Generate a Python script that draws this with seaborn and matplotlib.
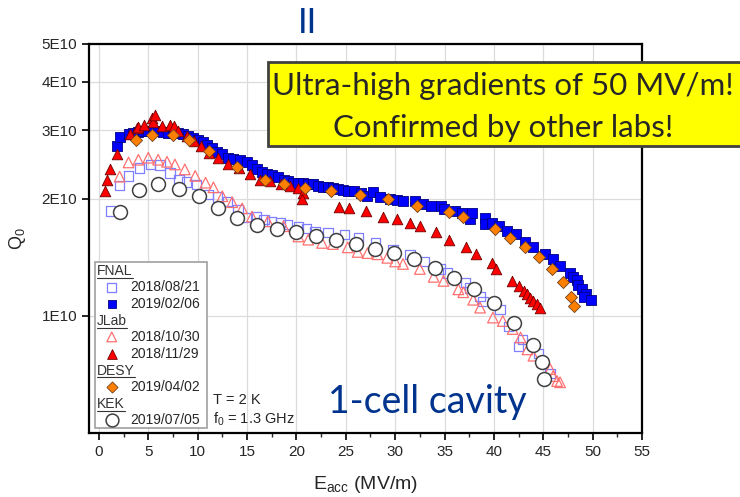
import numpy as np
import pandas as pd
import matplotlib
matplotlib.use("Agg")
import matplotlib.pyplot as plt
from matplotlib.patches import Rectangle
from matplotlib.ticker import FixedLocator, MultipleLocator, NullLocator
import seaborn as sns

# Q0 values are in units of 1E10, Eacc in MV/m
# FNAL 2018/08/21 (open squares)
fnal18_e = [1.2, 2.1, 3.0, 4.1, 5.2, 6.2, 7.2, 8.1, 8.9, 9.9, 11.1, 12.0, 13.0, 14.1, 15.0,
            15.9, 16.7, 17.5, 18.4, 19.1, 20.2, 21.0, 21.9, 23.2, 24.9, 26.3, 28.0, 29.8,
            31.5, 33.0, 34.6, 35.3, 37.1, 37.6, 38.6, 38.9, 40.6, 41.5, 42.5, 42.9, 44.5, 45.7]
fnal18_q = [1.86, 2.16, 2.29, 2.40, 2.45, 2.44, 2.33, 2.24, 2.21, 2.18, 2.05, 2.02, 1.97, 1.88, 1.79,
            1.80, 1.77, 1.75, 1.74, 1.72, 1.70, 1.68, 1.65, 1.64, 1.62, 1.59, 1.54, 1.48,
            1.44, 1.38, 1.32, 1.29, 1.22, 1.18, 1.12, 1.09, 1.04, 0.94, 0.835, 0.87, 0.80, 0.71]

# FNAL 2019/02/06 (filled squares)
fnal19_e = [1.8, 2.1, 3.0, 3.5, 4.0, 4.5, 5.0, 5.5, 6.0, 6.5, 7.0, 7.5, 8.0, 8.5, 9.0, 9.5,
            10.0, 10.5, 10.9, 11.5, 12.0, 12.5, 13.1, 13.6, 14.3, 15.0, 15.5, 16.0, 16.5, 17.0,
            17.5, 18.1, 18.7, 19.2, 19.7, 20.2, 20.7, 21.2, 21.7, 22.2, 22.7, 23.2, 23.7, 24.2,
            24.7, 25.2, 25.8, 26.5, 27.2, 27.8, 28.5, 29.5, 30.2, 30.8, 32.0, 32.8, 33.6, 34.6,
            34.9, 36.1, 36.8, 37.6, 37.8, 39.1, 39.1, 39.8, 40.5, 41.3, 42.2, 43.2, 44.0, 45.2,
            46.0, 46.7, 47.7, 48.0, 48.4, 48.5, 48.9, 49.3, 49.1, 49.8]
fnal19_q = [2.73, 2.88, 2.93, 2.95, 2.97, 2.98, 2.99, 2.98, 2.98, 2.97, 2.96, 2.96, 2.95, 2.93, 2.90, 2.87,
            2.84, 2.80, 2.75, 2.70, 2.64, 2.60, 2.55, 2.53, 2.52, 2.48, 2.44, 2.38, 2.35, 2.32,
            2.30, 2.27, 2.24, 2.22, 2.20, 2.20, 2.19, 2.18, 2.18, 2.16, 2.15, 2.14, 2.13, 2.12,
            2.11, 2.10, 2.09, 2.07, 2.03, 2.08, 2.02, 2.00, 1.99, 1.97, 1.97, 1.94, 1.92, 1.92,
            1.88, 1.86, 1.84, 1.77, 1.84, 1.78, 1.72, 1.73, 1.70, 1.65, 1.62, 1.55, 1.50, 1.44,
            1.40, 1.34, 1.29, 1.26, 1.24, 1.20, 1.17, 1.14, 1.12, 1.10]

# JLab 2018/10/30 (open triangles)
jlab1030_e = [2.1, 3.0, 4.0, 5.0, 6.0, 6.9, 7.7, 8.7, 9.75, 10.8, 11.6, 12.5, 13.5, 14.5, 15.5,
              17.1, 18.7, 20.2, 21.2, 22.6, 23.7, 25.2, 26.2, 27.2, 28.2, 29.2, 30.0, 30.8,
              32.5, 33.9, 34.9, 36.4, 36.9, 37.9, 38.6, 39.9, 40.9, 41.9, 42.7, 43.4, 44.0,
              44.9, 45.7, 46.0, 46.4, 46.7]
jlab1030_q = [2.28, 2.48, 2.52, 2.55, 2.52, 2.49, 2.45, 2.38, 2.29, 2.20, 2.14, 2.03, 1.96, 1.89, 1.80,
              1.75, 1.70, 1.60, 1.57, 1.54, 1.53, 1.50, 1.46, 1.45, 1.44, 1.41, 1.38, 1.36,
              1.32, 1.26, 1.23, 1.17, 1.15, 1.10, 1.05, 0.99, 0.97, 0.925, 0.88, 0.82, 0.79,
              0.76, 0.73, 0.70, 0.68, 0.675]

# JLab 2018/11/29 (filled triangles)
jlab1129_e = [0.6, 0.8, 1.1, 1.8, 3.1, 3.85, 4.0, 4.6, 5.4, 5.5, 5.7, 6.4, 7.2, 7.6, 8.0, 8.9,
              9.6, 10.3, 11.1, 12.1, 13.1, 14.2, 15.3, 16.3, 17.3, 18.4, 19.4, 20.2, 20.7, 20.6,
              24.3, 25.3, 27.0, 28.8, 30.2, 31.5, 32.5, 34.1, 35.5, 37.2, 38.2, 39.8, 40.2,
              41.8, 42.5, 43.0, 43.4, 43.7, 44.0, 44.4, 44.7]
jlab1129_q = [2.09, 2.24, 2.39, 2.61, 2.93, 3.04, 3.06, 3.10, 3.23, 3.16, 3.28, 3.07, 3.10, 3.07, 2.98, 2.90,
              2.81, 2.73, 2.63, 2.55, 2.45, 2.40, 2.31, 2.24, 2.22, 2.18, 2.16, 2.13, 2.07, 2.00,
              1.91, 1.89, 1.86, 1.80, 1.77, 1.73, 1.70, 1.64, 1.57, 1.50, 1.44, 1.37, 1.32,
              1.23, 1.19, 1.16, 1.14, 1.11, 1.09, 1.07, 1.05]

# DESY 2019/04/02 (diamonds)
desy_e = [3.8, 5.4, 7.5, 9.1, 11.2, 14.0, 16.8, 18.7, 20.9, 23.5, 26.4, 29.3, 32.2, 35.5,
          36.9, 40.1, 41.6, 43.2, 44.6, 45.9, 47.0, 47.8, 48.1]
desy_q = [2.84, 2.92, 2.92, 2.84, 2.65, 2.42, 2.24, 2.18, 2.13, 2.09, 2.04, 2.00, 1.92, 1.85,
          1.80, 1.67, 1.59, 1.50, 1.42, 1.32, 1.22, 1.12, 1.06]

# KEK 2019/07/05 (open circles)
kek_e = [2.1, 4.1, 6.0, 8.1, 10.1, 12.1, 14.0, 16.0, 18.0, 20.0, 22.0, 24.0, 26.0, 28.0,
         29.9, 31.9, 34.0, 36.0, 38.0, 40.0, 42.0, 44.0, 44.9, 45.1]
kek_q = [1.85, 2.11, 2.18, 2.12, 2.03, 1.89, 1.79, 1.71, 1.67, 1.64, 1.60, 1.57, 1.53, 1.49,
         1.45, 1.40, 1.33, 1.25, 1.17, 1.08, 0.96, 0.84, 0.76, 0.69]

x_ticks = [0, 5, 10, 15, 20, 25, 30, 35, 40, 45, 50, 55]
y_ticks = [1e10, 2e10, 3e10, 4e10, 5e10]
y_tick_labels = ["1E10", "2E10", "3E10", "4E10", "5E10"]

runs = [
    ("FNAL", "2018/08/21", fnal18_e, fnal18_q,
     dict(marker="s", s=46, facecolor="none", edgecolor="#7f7fff", linewidth=0.9)),
    ("FNAL", "2019/02/06", fnal19_e, fnal19_q,
     dict(marker="s", s=46, facecolor="#0000ff", edgecolor="#000080", linewidth=0.6)),
    ("JLab", "2018/10/30", jlab1030_e, jlab1030_q,
     dict(marker="^", s=58, facecolor="none", edgecolor="#ff7070", linewidth=0.9)),
    ("JLab", "2018/11/29", jlab1129_e, jlab1129_q,
     dict(marker="^", s=58, facecolor="#ff0000", edgecolor="#700000", linewidth=0.6)),
    ("DESY", "2019/04/02", desy_e, desy_q,
     dict(marker="D", s=38, facecolor="#ff8000", edgecolor="#704020", linewidth=0.6)),
    ("KEK", "2019/07/05", kek_e, kek_q,
     dict(marker="o", s=100, facecolor="white", edgecolor="#404040", linewidth=1.1)),
]

frames = []
for lab, date, e, q, _ in runs:
    frames.append(pd.DataFrame({"Eacc": e, "Q0": np.array(q) * 1e10, "run": date}))
df = pd.concat(frames, ignore_index=True)

sns.set_style("ticks")
plt.rcParams["font.family"] = ["Liberation Sans", "DejaVu Sans"]
plt.rcParams["mathtext.default"] = "regular"

fig = plt.figure(figsize=(7.4, 4.97), dpi=100)
ax = fig.add_axes([0.1203, 0.1288, 0.7473, 0.7827])

for lab, date, e, q, style in runs:
    sns.scatterplot(data=df[df["run"] == date], x="Eacc", y="Q0", ax=ax,
                    legend=False, zorder=3, **style)

ax.set_yscale("log")
ax.set_xlim(-1, 55)
ax.set_ylim(5e9, 5e10)
ax.xaxis.set_major_locator(FixedLocator(x_ticks))
ax.xaxis.set_minor_locator(MultipleLocator(2.5))
ax.yaxis.set_major_locator(FixedLocator(y_ticks))
ax.yaxis.set_minor_locator(NullLocator())
ax.set_yticklabels(y_tick_labels)
ax.grid(True, which="major", color="#dcdcdc", linewidth=0.9)
ax.set_axisbelow(True)
ax.tick_params(axis="both", which="major", direction="out", length=5, width=1.2,
               labelsize=11, colors="black", labelcolor="#262626")
ax.tick_params(axis="x", which="minor", direction="out", length=3, width=1.0)
for sp in ax.spines.values():
    sp.set_color("black")
    sp.set_linewidth(1.6)

ax.set_xlabel("E$_{acc}$ (MV/m)", fontsize=14, labelpad=11, color="#262626")
ax.set_ylabel("Q$_0$", fontsize=13, labelpad=10, color="#262626")

# legend box drawn by hand, grouped by lab
ax.add_patch(Rectangle((0.011, 0.013), 0.202, 0.427, transform=ax.transAxes,
                       facecolor="white", edgecolor="#a0a0a0", linewidth=1.2, zorder=5))
rows_y = [0.417, 0.3746, 0.332, 0.290, 0.247, 0.204, 0.162, 0.119, 0.0763, 0.0334]
fig.canvas.draw()
renderer = fig.canvas.get_renderer()
row = 0
last_lab = None
for lab, date, e, q, style in runs:
    if lab != last_lab:
        t = ax.text(0.0145, rows_y[row], lab, transform=ax.transAxes, fontsize=10,
                    va="baseline", ha="left", color="#333333", zorder=6)
        t.set_y(rows_y[row] - 0.012)
        bb = t.get_window_extent(renderer).transformed(ax.transAxes.inverted())
        ax.plot([bb.x0, bb.x1], [rows_y[row] - 0.019, rows_y[row] - 0.019],
                transform=ax.transAxes, color="#333333", linewidth=0.8, zorder=6)
        row += 1
        last_lab = lab
    ax.scatter([0.0411], [rows_y[row]], transform=ax.transAxes, marker=style["marker"],
               s=style["s"] * 0.85, facecolor=style["facecolor"], edgecolor=style["edgecolor"],
               linewidth=style["linewidth"], zorder=6, clip_on=False)
    ax.text(0.0741, rows_y[row], date, transform=ax.transAxes, fontsize=10,
            va="center", ha="left", color="#262626", zorder=6)
    row += 1

ax.text(0.224, 0.085, "T = 2 K", transform=ax.transAxes, fontsize=10.5,
        va="center", ha="left", color="#262626")
ax.text(0.224, 0.035, "f$_0$ = 1.3 GHz", transform=ax.transAxes, fontsize=10.5,
        va="center", ha="left", color="#262626")
ax.text(0.432, 0.051, "1-cell cavity", transform=ax.transAxes, fontsize=27,
        va="baseline", ha="left", color="#00338d", family="Lato")

# slide overlay: yellow call-out and heading fragment
fig.patches.append(Rectangle((0.362, 0.706), 0.7, 0.169, transform=fig.transFigure,
                             facecolor="#ffff00", edgecolor="#404040", linewidth=2,
                             zorder=10))
fig.text(0.68, 0.809, "Ultra-high gradients of 50 MV/m!", fontsize=22.5, family="Lato",
         ha="center", va="baseline", color="#262626", zorder=11)
fig.text(0.68, 0.724, "Confirmed by other labs!", fontsize=22.5, family="Lato",
         ha="center", va="baseline", color="#262626", zorder=11)
fig.text(0.415, 0.934, "II", fontsize=25, family="Lato", ha="center", va="baseline",
         color="#00338d")

fig.savefig("out.png", dpi=100)
